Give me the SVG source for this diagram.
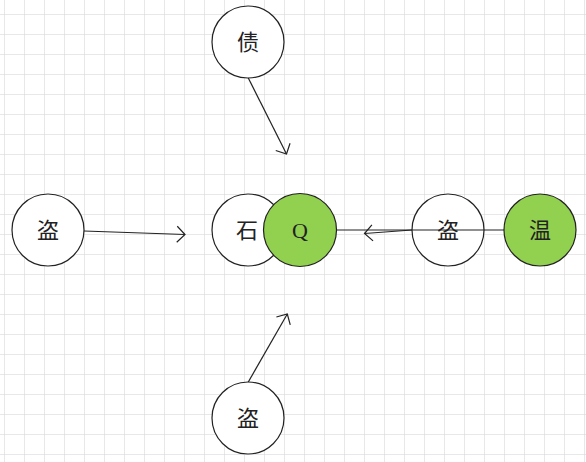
<svg xmlns="http://www.w3.org/2000/svg" width="586" height="462" viewBox="0 0 586 462">
<style>
.node circle{stroke:#222;stroke-width:1.2}
.w{fill:#fff}
.g{fill:#92d050}
.node text{font-family:"Liberation Serif","Noto Sans CJK SC",serif;font-size:22px;fill:#222;text-anchor:middle;dominant-baseline:central}
.conn line{stroke:#222;stroke-width:1.2;fill:none}
</style>
<defs>
<pattern id="grid" patternUnits="userSpaceOnUse" x="4" y="14" width="20" height="20">
<path d="M0,0 H20 M0,0 V20" stroke="#d2d2d2" stroke-width="1" fill="none"/>
</pattern>
<marker id="arr" viewBox="-10 -10 20 20" markerWidth="20" markerHeight="20" markerUnits="userSpaceOnUse" refX="0" refY="0" orient="auto">
<path d="M-8,-8 L0,0 L-8,8" fill="none" stroke="#222" stroke-width="1.2"/>
</marker>
</defs>
<rect width="586" height="462" fill="#fff"/>
<rect width="586" height="462" fill="url(#grid)"/>
<g id="n-zhai" class="node"><circle class="w" cx="248" cy="42" r="36"/><text x="248" y="42">债</text></g>
<g id="n-dao-left" class="node"><circle class="w" cx="48" cy="230" r="36"/><text x="48" y="230">盗</text></g>
<g id="n-dao-bottom" class="node"><circle class="w" cx="248" cy="418" r="36"/><text x="248" y="418">盗</text></g>
<g id="n-shi" class="node"><circle class="w" cx="248" cy="230" r="36"/><text x="247" y="230">石</text></g>
<g id="n-q" class="node"><circle class="g" cx="300" cy="230" r="36.5"/><text x="300" y="230">Q</text></g>
<g id="n-dao-right" class="node"><circle class="w" cx="448" cy="230" r="36"/><text x="448" y="230">盗</text></g>
<g id="n-wen" class="node"><circle class="g" cx="540" cy="230" r="36"/><text x="540" y="230">温</text></g>
<g id="connectors" class="conn">
<line x1="84" y1="231" x2="185" y2="234.5" marker-end="url(#arr)"/>
<line x1="248.3" y1="78" x2="286.5" y2="154" marker-end="url(#arr)"/>
<line x1="248.3" y1="382" x2="287.3" y2="314" marker-end="url(#arr)"/>
<line x1="412" y1="230" x2="364.5" y2="233.5" marker-end="url(#arr)"/>
<line x1="336.5" y1="230" x2="504" y2="230"/>
</g>
</svg>
